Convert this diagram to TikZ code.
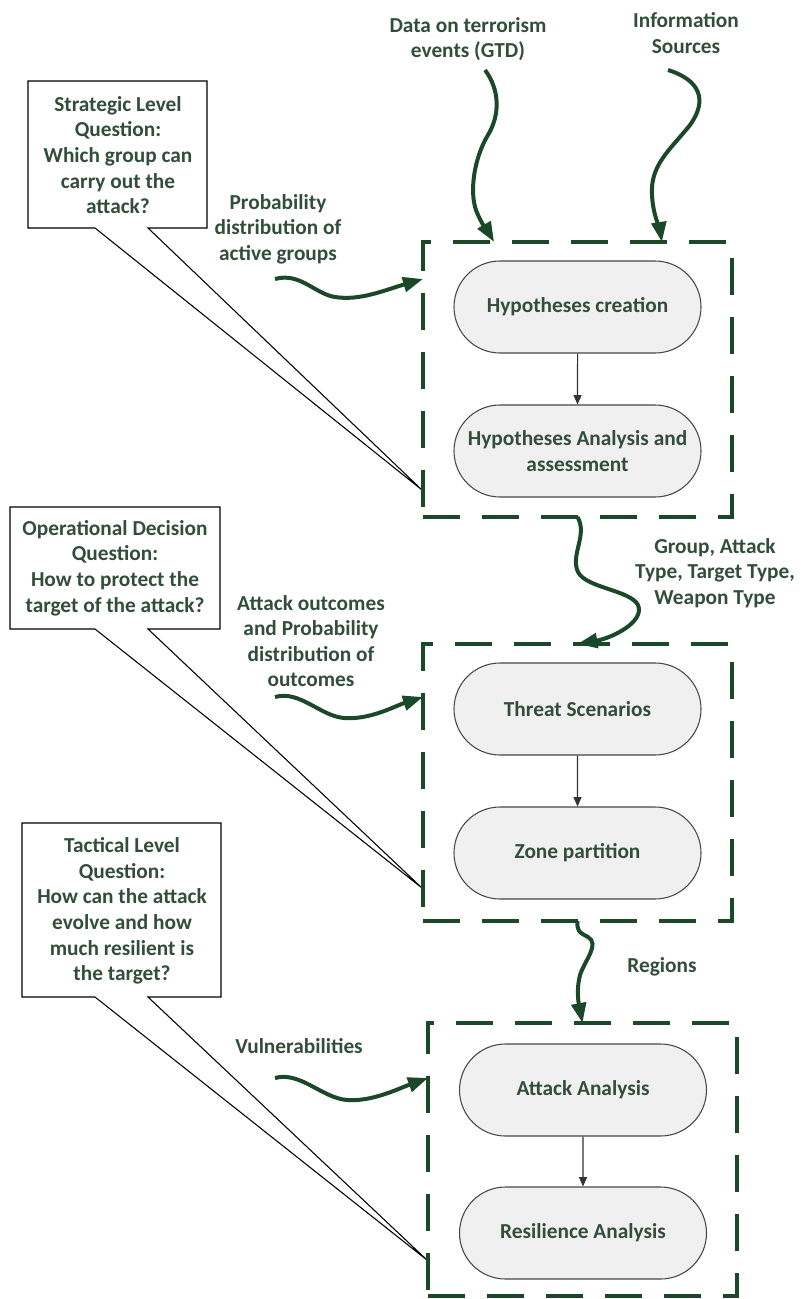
\documentclass[tikz,border=0pt]{standalone}
\usepackage{fontspec}
\setmainfont{Carlito}
\usetikzlibrary{arrows.meta,calc,shapes.misc}
\definecolor{boxgreen}{RGB}{28,72,42}
\definecolor{txtgreen}{RGB}{50,78,58}
\definecolor{pillfill}{RGB}{240,240,240}
\definecolor{pilldraw}{RGB}{70,70,70}

\begin{document}
\begin{tikzpicture}[x=0.75pt,y=-0.75pt,
  lbl/.style={font=\bfseries\fontsize{16}{19.2}\selectfont, text=txtgreen, align=center, inner sep=0pt},
  pill/.style={lbl, draw=pilldraw, line width=0.8pt, fill=pillfill, rounded rectangle,
               minimum width=185.25pt, minimum height=69pt},
  container/.style={draw=boxgreen, line width=3pt, dash pattern=on 27.75pt off 16.5pt,
               rectangle, inner sep=0pt, outer sep=0pt, minimum width=231.75pt},
  flow/.style={draw=boxgreen, line width=3pt, -{Triangle[length=15pt,width=11pt]}},
  pillarrow/.style={draw=black!80, line width=0.8pt, -{Triangle[length=7pt,width=6pt]}},
  callout/.style={draw=black, line width=0.8pt, fill=white, line join=miter},
]
\useasboundingbox (0,0) rectangle (812,1299);

% question callouts on the left
\draw[callout] (28,81) -- (207,81) -- (207,228) -- (148,228) -- (422,490) -- (95,228) -- (28,228) -- cycle;
\draw[callout] (10,507) -- (220,507) -- (220,629) -- (148,629) -- (422,888) -- (95,629) -- (10,629) -- cycle;
\draw[callout] (22,823) -- (221,823) -- (221,997) -- (148,997) -- (427,1260) -- (95,997) -- (22,997) -- cycle;

\node[lbl] (qs) at (118,155) {Strategic Level\\Question:\\Which group can\\carry out the\\attack?};
\node[lbl] (qo) at (115,568) {Operational Decision\\Question:\\How to protect the\\target of the attack?};
\node[lbl] (qt) at (122,911) {Tactical Level\\Question:\\How can the attack\\evolve and how\\much resilient is\\the target?};

% dashed stage containers
\node[container, minimum height=206.25pt] (c1) at (577.5,379.5) {};
\node[container, minimum height=207.75pt] (c2) at (577.5,782.5) {};
\node[container, minimum height=204.75pt] (c3) at (582.5,1159.5) {};

% process steps
\node[pill] (h1) at (577.5,307) {Hypotheses creation};
\node[pill] (h2) at (577.5,451) {Hypotheses Analysis and\\assessment};
\node[pill] (t1) at (577.5,709) {Threat Scenarios};
\node[pill] (t2) at (577.5,853) {Zone partition};
\node[pill] (a1) at (583,1090) {Attack Analysis};
\node[pill] (a2) at (583,1233) {Resilience Analysis};

\draw[pillarrow] (h1) -- (h2);
\draw[pillarrow] (t1) -- (t2);
\draw[pillarrow] (a1) -- (a2);

% inputs
\node[lbl] (gtd) at (468,39) {Data on terrorism\\events (GTD)};
\node[lbl] (info) at (686,33) {Information\\Sources};
\node[lbl] (prob) at (278,229) {Probability\\distribution of\\active groups};
\node[lbl] (outc) at (311,641) {Attack outcomes\\and Probability\\distribution of\\outcomes};
\node[lbl] (grp) at (715,573) {Group, Attack\\Type, Target Type,\\Weapon Type};
\node[lbl] (reg) at (662,967) {Regions};
\node[lbl] (vul) at (299,1046) {Vulnerabilities};

\coordinate (gtdS) at (485,70);
\coordinate (infoS) at (668,70);
\coordinate (probS) at (275,279);
\coordinate (outcS) at (275,697);
\coordinate (vulS) at (275,1078);
\coordinate (gtdE) at ($(c1.north west)!0.23!(c1.north east)$);
\coordinate (infoE) at ($(c1.north west)!0.773!(c1.north east)$);

\draw[flow] (gtdS) .. controls (500,90) and (500,115) .. (488,135)
  .. controls (474,158) and (468,195) .. (478,215)
  .. controls (484,228) and (490,235) .. (gtdE);
\draw[flow] (infoS) .. controls (700,80) and (708,100) .. (690,125)
  .. controls (670,150) and (650,165) .. (652,195)
  .. controls (653,215) and (660,230) .. (infoE);
\draw[flow] (probS) .. controls (300,272) and (315,294) .. (335,297)
  .. controls (360,301) and (385,290) .. (c1.west |- probS);
\draw[flow] (outcS) .. controls (300,690) and (320,716) .. (344,718)
  .. controls (370,720) and (395,706) .. (c2.west |- outcS);
\draw[flow] (vulS) .. controls (300,1071) and (322,1098) .. (347,1100)
  .. controls (372,1102) and (400,1088) .. (c3.west |- vulS);
\draw[flow] (c1.south) .. controls (588,535) and (570,555) .. (578,572)
  .. controls (586,588) and (630,590) .. (638,605)
  .. controls (645,622) and (612,638) .. (c2.north);
\draw[flow] (c2.south) .. controls (577,930) and (578,932) .. (588,937)
  .. controls (600,944) and (585,960) .. (580,975)
  .. controls (576,990) and (579,1005) .. (c3.north);
\end{tikzpicture}
\end{document}
